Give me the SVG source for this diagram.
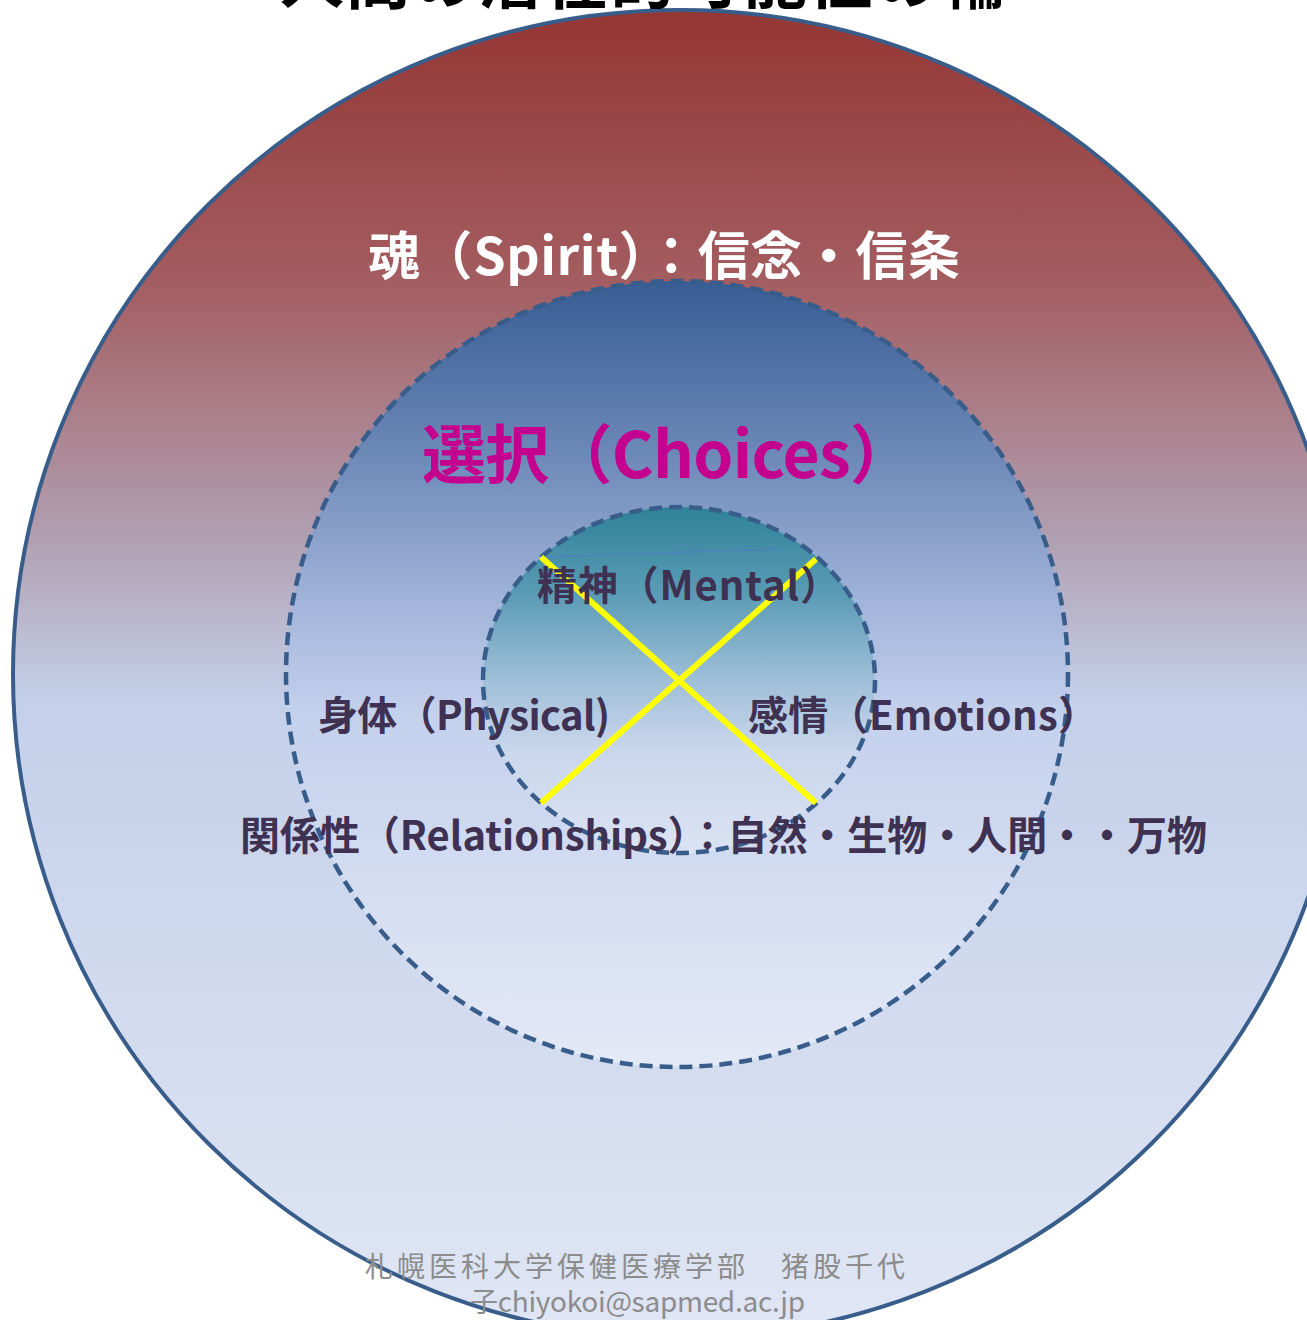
<svg xmlns="http://www.w3.org/2000/svg" width="1307" height="1320" viewBox="0 0 1307 1320">
<defs>
<linearGradient id="gOuter" x1="0" y1="0" x2="0" y2="1">
<stop offset="0" stop-color="#943634"/>
<stop offset="0.2" stop-color="#a35c5f"/>
<stop offset="0.4" stop-color="#b1a0b2"/>
<stop offset="0.52" stop-color="#c4d0ea"/>
<stop offset="1" stop-color="#e0e6f4"/>
</linearGradient>
<linearGradient id="gMid" x1="0" y1="0" x2="0" y2="1">
<stop offset="0" stop-color="#375d94"/>
<stop offset="0.2" stop-color="#6784b4"/>
<stop offset="0.4" stop-color="#9fb2d8"/>
<stop offset="0.55" stop-color="#c4d1ed"/>
<stop offset="1" stop-color="#e4e9f6"/>
</linearGradient>
<linearGradient id="gInner" x1="0" y1="0" x2="0" y2="1">
<stop offset="0" stop-color="#2f8299"/>
<stop offset="0.25" stop-color="#5a9bb5"/>
<stop offset="0.5" stop-color="#9fbfd8"/>
<stop offset="0.7" stop-color="#c9d6ec"/>
<stop offset="1" stop-color="#dbe3f3"/>
</linearGradient>
<style>
.lbl{font-family:"Noto Sans CJK JP","Noto Sans",sans-serif;font-weight:bold;fill:#3f3151}
.ring{stroke:#385d8a;stroke-width:4.5;stroke-dasharray:13,7}
.yl{stroke:#ffff00;stroke-width:6;fill:none}
.foot{font-family:"Noto Sans CJK JP","Noto Sans",sans-serif;fill:#8c8c8c;font-size:28px}
</style>
</defs>
<rect width="1307" height="1320" fill="#ffffff"/>
<g id="outer">
<ellipse cx="680" cy="674" rx="667" ry="664" fill="url(#gOuter)" stroke="#385d8a" stroke-width="4"/>
</g>
<g id="title">
<text x="280" y="3" textLength="725" lengthAdjust="spacing" font-family="Noto Sans CJK JP, sans-serif" font-weight="bold" font-size="64" fill="#000000">人間の潜在的可能性の輪</text>
</g>
<g id="spirit">
<text x="368" y="275" textLength="592" lengthAdjust="spacing" font-family="Noto Sans CJK JP, sans-serif" font-weight="bold" font-size="52" fill="#ffffff">魂（Spirit）：信念・信条</text>
</g>
<g id="middle">
<ellipse cx="677" cy="674" rx="391" ry="393" fill="url(#gMid)" class="ring"/>
</g>
<g id="choices">
<text x="422" y="478" textLength="492" lengthAdjust="spacing" font-family="Noto Sans CJK JP, sans-serif" font-weight="bold" font-size="64" fill="#c4008f">選択（Choices）</text>
</g>
<g id="inner">
<ellipse cx="679" cy="680" rx="196" ry="173" fill="url(#gInner)" class="ring"/>
</g>
<g id="connectors">
<line x1="543" y1="557" x2="780" y2="549" stroke="#4f81bd" stroke-width="1.5"/>
<line x1="541" y1="557" x2="816" y2="803" class="yl"/>
<line x1="816" y1="559" x2="541" y2="803" class="yl"/>
</g>
<g id="mental"><text class="lbl" x="537" y="600" textLength="303" lengthAdjust="spacing" font-size="40">精神（Mental）</text></g>
<g id="physical"><text class="lbl" x="318" y="730" textLength="292" lengthAdjust="spacing" font-size="40">身体（Physical)</text></g>
<g id="emotions"><text class="lbl" x="748" y="730" textLength="350" lengthAdjust="spacing" font-size="40">感情（Emotions）</text></g>
<g id="relationships"><text class="lbl" x="240" y="850" textLength="967" lengthAdjust="spacing" font-size="40">関係性（Relationships）：自然・生物・人間・・万物</text></g>
<g id="footer">
<text class="foot" x="365" y="1277" textLength="540" lengthAdjust="spacing">札幌医科大学保健医療学部　猪股千代</text>
<text class="foot" x="470" y="1312" textLength="335" lengthAdjust="spacing">子chiyokoi@sapmed.ac.jp</text>
</g>
</svg>
